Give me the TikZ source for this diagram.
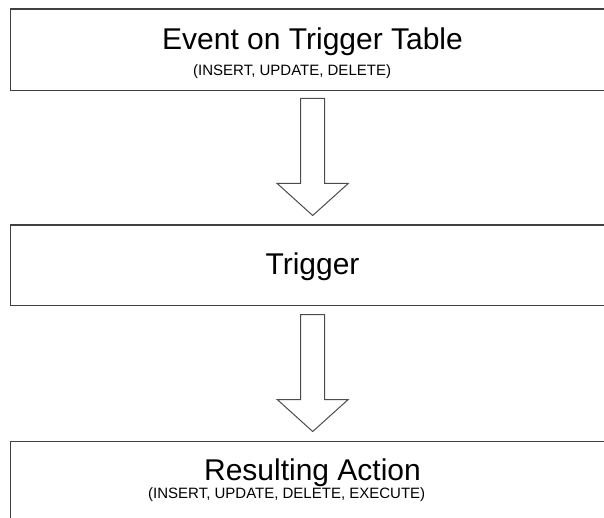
\documentclass[tikz,border=0pt]{standalone}
\usepackage{fontspec}
\setmainfont{Liberation Sans}
\begin{document}
\begin{tikzpicture}[x=1pt,y=-1pt,
  boxline/.style={draw=black!75, line width=1.2pt, rectangle, inner sep=0pt, anchor=north west, minimum width=605pt},
  blockarrow/.style={draw=black!70, line width=1pt, fill=white, line join=miter},
  title/.style={font=\fontsize{30}{36}\selectfont, anchor=base, inner sep=0pt},
  subtitle/.style={font=\fontsize{15}{18}\selectfont, anchor=base west, inner sep=0pt}]
\clip (0,0) rectangle (604,518);
\fill[white] (0,0) rectangle (604,518);
% boxes
\node[boxline, minimum height=81.5pt] (event) at (10,8.5) {};
\node[boxline, minimum height=80.5pt] (trigger) at (10,224.5) {};
\node[boxline, minimum height=90pt] (action) at (10,440.5) {};
% texts
\node[title] (eventtitle) at (312.5,50) {Event on Trigger Table};
\node[subtitle] (eventsub) at (193,76) {(INSERT, UPDATE, DELETE)};
\node[title] (triggertitle) at (312.5,275) {Trigger};
\node[title] (actiontitle) at (312.5,480) {Resulting Action};
\node[subtitle] (actionsub) at (148,498.5) {(INSERT, UPDATE, DELETE, EXECUTE)};
% block arrows
\coordinate (a1) at (312.7,98.5);
\coordinate (a2) at (312.7,314.5);
\foreach \a in {a1,a2}{
  \draw[blockarrow] ([xshift=-12pt]\a) -- ++(0,85) -- ++(-23.5,0) -- ++(35.5,32)
     -- ++(35.5,-32) -- ++(-23.5,0) -- ++(0,-85) -- cycle;
}
\end{tikzpicture}
\end{document}
